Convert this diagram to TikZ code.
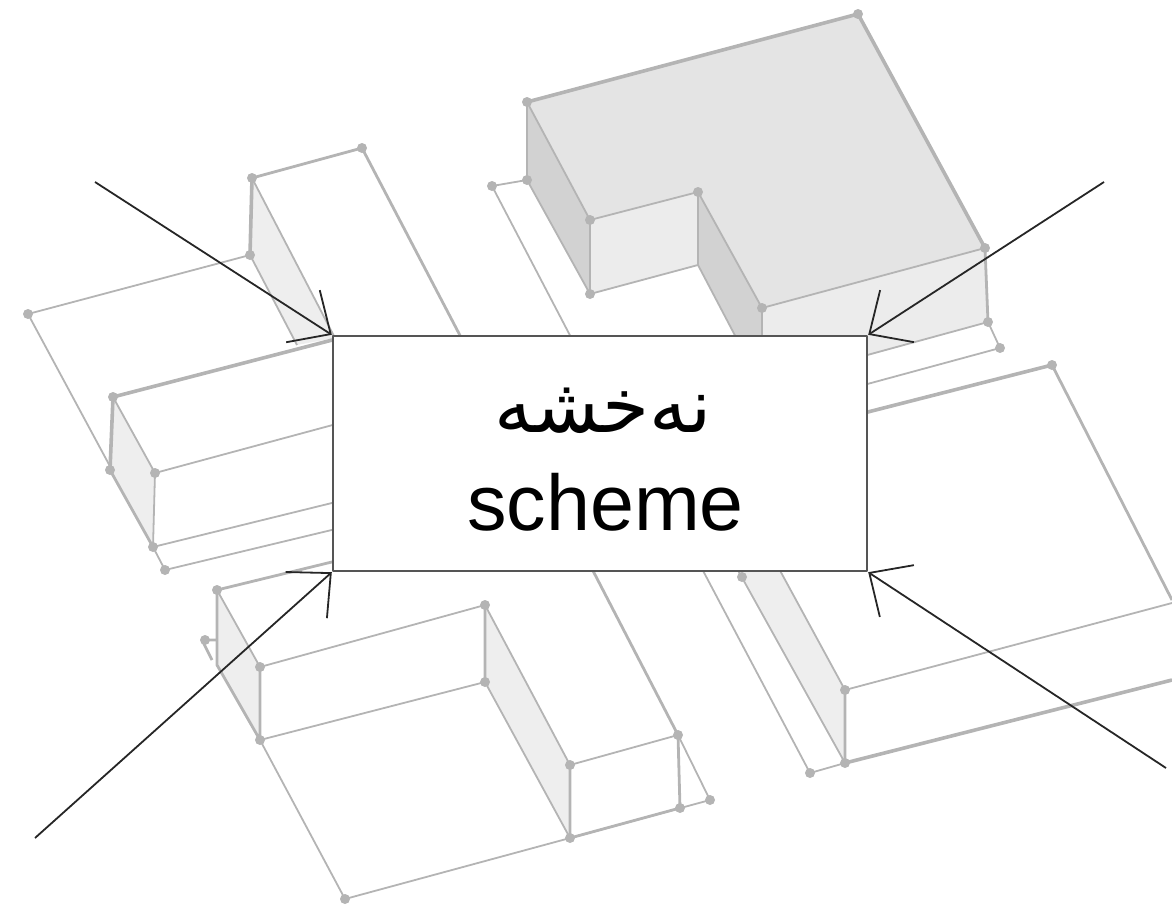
\documentclass[tikz,border=0pt]{standalone}
\usepackage{fontspec}
\setmainfont{Liberation Sans}
\newfontfamily\arabicfont[Script=Arabic]{DejaVu Sans}
\TeXXeTstate=1
\usepackage{tikz}
\usetikzlibrary{arrows.meta}
\definecolor{WallGrey}{HTML}{B4B4B4}
\definecolor{RoofFill}{HTML}{E4E4E4}
\definecolor{ShadeDark}{HTML}{D2D2D2}
\definecolor{ShadeLight}{HTML}{EEEEEE}
\definecolor{BoxEdge}{HTML}{555555}
\begin{document}
\begin{tikzpicture}[x=1pt, y=-1pt, line join=round,
  heavy/.style={draw=WallGrey, line width=3.6pt},
  medium/.style={draw=WallGrey, line width=2.8pt},
  light/.style={draw=WallGrey, line width=1.8pt},
  pointer/.style={draw=black!85, line width=1.8pt,
    -{Straight Barb[length=33pt, width=62pt, line width=1.8pt]}},
  titlebox/.style={draw=BoxEdge, fill=white, line width=2.4pt, minimum width=534pt,
    minimum height=235pt, inner sep=0pt},
  titletext/.style={anchor=base, inner sep=0pt}]
  \useasboundingbox (0,0) rectangle (1172,910);
  % top right block
  \fill[RoofFill] (527,102) -- (858,14) -- (985,248) -- (762,308) -- (698,192) -- (590,220) -- cycle;
  \fill[ShadeDark] (527,102) -- (590,220) -- (590,294) -- (527,180) -- cycle;
  \fill[RoofFill!70!white] (590,220) -- (698,192) -- (698,265) -- (590,294) -- cycle;
  \fill[ShadeDark] (698,192) -- (762,308) -- (762,345) -- (740,345) -- (698,265) -- cycle;
  \fill[RoofFill!70!white] (762,308) -- (985,248) -- (988,322) -- (870,355) -- (762,345) -- cycle;
  \draw[heavy] (527,102) -- (858,14) -- (985,248);
  \draw[medium] (985,248) -- (988,322);
  \draw[light] (985,248) -- (762,308) -- (698,192) -- (590,220) -- (527,102);
  \draw[medium] (527,102) -- (527,180) (590,220) -- (590,294) (698,192) -- (698,265);
  \draw[light] (590,294) -- (698,265) -- (740,345) (762,308) -- (762,345);
  \draw[light] (590,294) -- (527,180) -- (492,186) -- (575,345);
  \draw[light] (988,322) -- (860,357) (988,322) -- (1000,348) -- (860,386);
  % upper left block
  \fill[ShadeLight] (252,178) -- (335,338) -- (297,345) -- (250,255) -- cycle;
  \draw[medium] (252,178) -- (362,148) -- (465,345);
  \draw[heavy] (252,178) -- (250,255);
  \draw[light] (252,178) -- (335,338) (250,255) -- (297,345);
  \draw[light] (250,255) -- (28,314) -- (112,470);
  % left block
  \fill[ShadeLight] (113,397) -- (155,473) -- (153,547) -- (110,470) -- cycle;
  \draw[heavy] (113,397) -- (340,338) (113,397) -- (110,470);
  \draw[medium] (110,470) -- (153,547);
  \draw[light] (113,397) -- (155,473) -- (153,547) -- (340,501);
  \draw[light] (155,473) -- (340,423) (153,547) -- (165,570) -- (340,528);
  % lower left block
  \fill[ShadeLight] (217,590) -- (260,667) -- (260,740) -- (217,665) -- cycle;
  \fill[ShadeLight] (485,605) -- (570,765) -- (570,838) -- (485,682) -- cycle;
  \draw[medium] (217,590) -- (340,560) (217,590) -- (217,665) -- (260,740) -- (260,667);
  \draw[light] (217,590) -- (260,667) -- (485,605) -- (570,765) -- (678,735) -- (710,800) -- (570,838) -- (345,899) -- (260,740) -- (485,682) -- (570,838);
  \draw[medium] (485,605) -- (485,682) (570,765) -- (570,838) -- (680,808) -- (678,735) -- (590,565);
  \draw[medium] (217,640) -- (202,640) -- (212,660);
  % right block
  \fill[ShadeLight] (735,565) -- (777,565) -- (845,690) -- (845,763) -- cycle;
  \draw[heavy] (860,414) -- (1052,365) (845,763) -- (1172,680);
  \draw[medium] (1052,365) -- (1172,600) (845,690) -- (845,763);
  \draw[light] (1172,603) -- (845,690) -- (777,565) (735,565) -- (845,763) -- (810,773) -- (700,565);
  % vertex marks
  \foreach \px/\py in {527/102,858/14,985/248,988/322,1000/348,762/308,698/192,590/220,590/294,527/180,492/186,252/178,362/148,250/255,28/314,113/397,155/473,153/547,110/470,165/570,217/590,260/667,260/740,485/605,485/682,570/765,570/838,678/735,680/808,710/800,345/899,205/640,1052/365,845/690,845/763,810/773,742/577}
    \fill[WallGrey] (\px,\py) circle (5pt);
  \node[titlebox] (scheme) at (600,453.5) {};
  \node[titletext, font=\arabicfont\fontsize{76}{90}\selectfont] (schemear) at (603,432) {\beginR نەخشە\endR};
  \node[titletext, font=\fontsize{79}{90}\selectfont] (schemeen) at (605.5,530) {scheme};
  \coordinate (nwend) at (95,182);
  \coordinate (neend) at (1104,182);
  \coordinate (swend) at (35,838);
  \coordinate (seend) at (1166,768);
  \draw[pointer] (nwend) -- (scheme.north west);
  \draw[pointer] (neend) -- (scheme.north east);
  \draw[pointer] (swend) -- (scheme.south west);
  \draw[pointer] (seend) -- (scheme.south east);
\end{tikzpicture}
\end{document}
